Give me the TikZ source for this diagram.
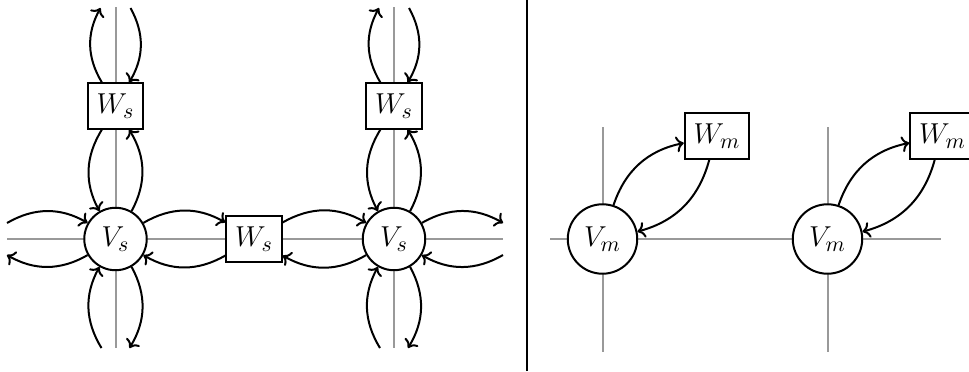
\documentclass[tikz,border=0pt]{standalone}
\usepackage{amsmath}
\usepackage{tikz}
\usetikzlibrary{arrows.meta, positioning, calc}
\definecolor{AxisGray}{HTML}{999999}

\begin{document}
\begin{tikzpicture}[
    x=0.5pt, y=0.5pt,
    font=\fontsize{15.4}{18}\selectfont,
    vnode/.style={
      circle,
      draw,
      line width=1pt,
      fill=white,
      inner sep=4.6pt,
    },
    wnode/.style={
      rectangle,
      draw,
      line width=1pt,
      fill=white,
      inner xsep=4.4pt,
      inner ysep=5.3pt,
    },
    axis/.style={draw=AxisGray, line width=1pt},
    flow/.style={->, line width=1pt},
  ]
    \useasboundingbox (0,0) rectangle (969,371);

    % grid lines, left panel
    \draw[axis] (115.5,364) -- (115.5,23);
    \draw[axis] (394,364) -- (394,23);
    \draw[axis] (7,132) -- (503,132);
    % grid lines, right panel
    \draw[axis] (602.5,244) -- (602.5,19);
    \draw[axis] (827.5,244) -- (827.5,19);
    \draw[axis] (550,132) -- (941,132);

    % panel separator
    \draw[line width=1pt] (527,0) -- (527,371);

    % left panel
    \node[vnode] (VsA) at (115.5,132) {$V_s$};
    \node[vnode] (VsB) at (394,132) {$V_s$};
    \node[wnode] (WsH) at (254,132) {$W_s$};
    \node[wnode] (WsA) at (115.5,265) {$W_s$};
    \node[wnode] (WsB) at (394,265) {$W_s$};

    \coordinate (leftUp) at (7,148);
    \coordinate (leftDown) at (7,116);
    \coordinate (rightUp) at (503,148);
    \coordinate (rightDown) at (503,116);
    \coordinate (botAl) at (101.5,23);
    \coordinate (botAr) at (129.5,23);
    \coordinate (botBl) at (380,23);
    \coordinate (botBr) at (408,23);
    \coordinate (topAl) at (100.5,363);
    \coordinate (topAr) at (130.5,363);
    \coordinate (topBl) at (379,363);
    \coordinate (topBr) at (409,363);

    \draw[flow] (leftUp) to[bend left=30] (VsA.150);
    \draw[flow] (VsA.210) to[bend left=30] (leftDown);
    \draw[flow] (botAl) to[bend left=30] (VsA.240);
    \draw[flow] (VsA.300) to[bend left=30] (botAr);
    \draw[flow] (WsA) to[bend right=30] (VsA);
    \draw[flow] (VsA) to[bend right=30] (WsA);
    \draw[flow] (WsA.120) to[bend left=30] (topAl);
    \draw[flow] (topAr) to[bend left=30] (WsA.60);

    \draw[flow] (VsA) to[bend left=30] (WsH);
    \draw[flow] (WsH) to[bend left=30] (VsA);
    \draw[flow] (WsH) to[bend left=30] (VsB);
    \draw[flow] (VsB) to[bend left=30] (WsH);

    \draw[flow] (VsB.30) to[bend left=30] (rightUp);
    \draw[flow] (rightDown) to[bend left=30] (VsB.330);
    \draw[flow] (botBl) to[bend left=30] (VsB.240);
    \draw[flow] (VsB.300) to[bend left=30] (botBr);
    \draw[flow] (WsB) to[bend right=30] (VsB);
    \draw[flow] (VsB) to[bend right=30] (WsB);
    \draw[flow] (WsB.120) to[bend left=30] (topBl);
    \draw[flow] (topBr) to[bend left=30] (WsB.60);

    % right panel
    \node[vnode] (VmA) at (602.5,132) {$V_m$};
    \node[vnode] (VmB) at (827.5,132) {$V_m$};
    \node[wnode] (WmA) at (717,235) {$W_m$};
    \node[wnode] (WmB) at (942.5,235) {$W_m$};

    \draw[flow] (VmA) to[bend left=30] (WmA);
    \draw[flow] (WmA) to[bend left=30] (VmA);
    \draw[flow] (VmB) to[bend left=30] (WmB);
    \draw[flow] (WmB) to[bend left=30] (VmB);
  \end{tikzpicture}
\end{document}
